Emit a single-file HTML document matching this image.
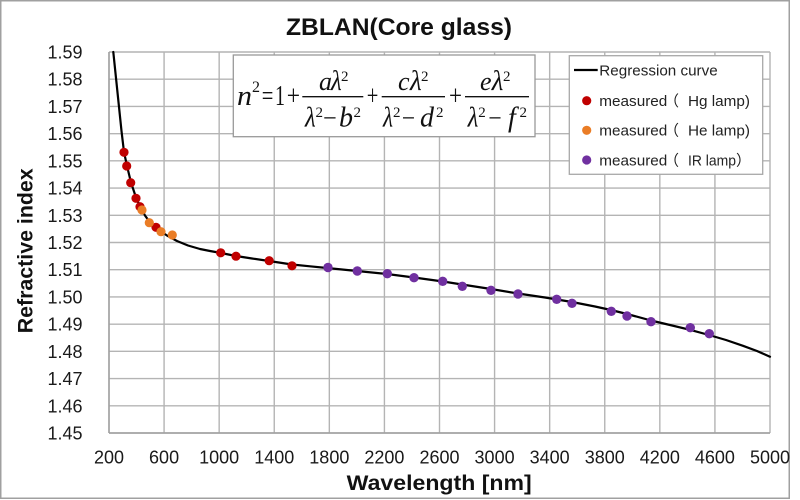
<!DOCTYPE html>
<html><head><meta charset="utf-8"><style>
html,body{margin:0;padding:0;background:#fff;}
svg{display:block;}
</style></head><body>
<svg width="800" height="500" viewBox="0 0 800 500" xmlns="http://www.w3.org/2000/svg">
<rect x="0" y="0" width="800" height="500" fill="#fff"/>
<rect x="0.75" y="0.75" width="788.5" height="497.5" fill="none" stroke="#a0a0a0" stroke-width="1.5"/>

<!-- title -->
<text x="286" y="35" font-family="Liberation Sans, sans-serif" font-weight="bold" font-size="24" fill="#111" textLength="226" lengthAdjust="spacingAndGlyphs">ZBLAN(Core glass)</text>

<!-- grid -->
<g stroke="#b4b4b4" stroke-width="1.4" fill="none">
<line x1="109" y1="52" x2="770" y2="52"/>
<line x1="109" y1="79.21" x2="770" y2="79.21"/>
<line x1="109" y1="106.43" x2="770" y2="106.43"/>
<line x1="109" y1="133.64" x2="770" y2="133.64"/>
<line x1="109" y1="160.86" x2="770" y2="160.86"/>
<line x1="109" y1="188.07" x2="770" y2="188.07"/>
<line x1="109" y1="215.29" x2="770" y2="215.29"/>
<line x1="109" y1="242.5" x2="770" y2="242.5"/>
<line x1="109" y1="269.71" x2="770" y2="269.71"/>
<line x1="109" y1="296.93" x2="770" y2="296.93"/>
<line x1="109" y1="324.14" x2="770" y2="324.14"/>
<line x1="109" y1="351.36" x2="770" y2="351.36"/>
<line x1="109" y1="378.57" x2="770" y2="378.57"/>
<line x1="109" y1="405.79" x2="770" y2="405.79"/>
<line x1="109" y1="433" x2="770" y2="433"/>
<line x1="109" y1="52" x2="109" y2="433"/>
<line x1="164.08" y1="52" x2="164.08" y2="433"/>
<line x1="219.17" y1="52" x2="219.17" y2="433"/>
<line x1="274.25" y1="52" x2="274.25" y2="433"/>
<line x1="329.33" y1="52" x2="329.33" y2="433"/>
<line x1="384.42" y1="52" x2="384.42" y2="433"/>
<line x1="439.5" y1="52" x2="439.5" y2="433"/>
<line x1="494.58" y1="52" x2="494.58" y2="433"/>
<line x1="549.67" y1="52" x2="549.67" y2="433"/>
<line x1="604.75" y1="52" x2="604.75" y2="433"/>
<line x1="659.83" y1="52" x2="659.83" y2="433"/>
<line x1="714.92" y1="52" x2="714.92" y2="433"/>
<line x1="770" y1="52" x2="770" y2="433"/>
</g>
<line x1="109" y1="433" x2="770" y2="433" stroke="#a0a0a0" stroke-width="1.5"/>
<line x1="109" y1="52" x2="109" y2="433" stroke="#a0a0a0" stroke-width="1.5"/>

<!-- y tick labels -->
<g font-family="Liberation Sans, sans-serif" font-size="18" fill="#1a1a1a" text-anchor="end">
<text x="82.5" y="58.5">1.59</text>
<text x="82.5" y="85.7">1.58</text>
<text x="82.5" y="112.9">1.57</text>
<text x="82.5" y="140.1">1.56</text>
<text x="82.5" y="167.4">1.55</text>
<text x="82.5" y="194.6">1.54</text>
<text x="82.5" y="221.8">1.53</text>
<text x="82.5" y="249">1.52</text>
<text x="82.5" y="276.2">1.51</text>
<text x="82.5" y="303.4">1.50</text>
<text x="82.5" y="330.6">1.49</text>
<text x="82.5" y="357.9">1.48</text>
<text x="82.5" y="385.1">1.47</text>
<text x="82.5" y="412.3">1.46</text>
<text x="82.5" y="439.5">1.45</text>
</g>

<!-- x tick labels -->
<g font-family="Liberation Sans, sans-serif" font-size="18" fill="#1a1a1a" text-anchor="middle">
<text x="109" y="463.5">200</text>
<text x="164.08" y="463.5">600</text>
<text x="219.17" y="463.5">1000</text>
<text x="274.25" y="463.5">1400</text>
<text x="329.33" y="463.5">1800</text>
<text x="384.42" y="463.5">2200</text>
<text x="439.5" y="463.5">2600</text>
<text x="494.58" y="463.5">3000</text>
<text x="549.67" y="463.5">3400</text>
<text x="604.75" y="463.5">3800</text>
<text x="659.83" y="463.5">4200</text>
<text x="714.92" y="463.5">4600</text>
<text x="770" y="463.5">5000</text>
</g>

<!-- axis titles -->
<text x="346.7" y="490" font-family="Liberation Sans, sans-serif" font-weight="bold" font-size="21" fill="#111" textLength="185" lengthAdjust="spacingAndGlyphs">Wavelength [nm]</text>
<text transform="translate(32.3,333.3) rotate(-90)" x="0" y="0" font-family="Liberation Sans, sans-serif" font-weight="bold" font-size="21" fill="#111" textLength="165" lengthAdjust="spacingAndGlyphs">Refractive index</text>

<!-- curve -->
<polyline fill="none" stroke="#000" stroke-width="2.2" stroke-linejoin="round" stroke-linecap="round" points="113.3,52 116,78 118.8,105 121.5,131 124,152 127,166 131,182.5 136,197.5 140,206.5 145,215.5 150,222.5 156,227.5 161,231.5 167,235.5 177,241 188,245.5 200,249 210,251 221,253 236,256 252,258.5 269,261 292,264.5 310,266.3 327,268 357,271 387,274 414,277.5 443,281.5 462,284.5 491,289 518,293.5 545,297.5 572,302 595,306.5 611,310 627,314 651,320.5 670,325 690,329.8 709,335 726,340 743,345.8 757,351 770,356.7"/>

<!-- red points -->
<g fill="#c00000">
<circle cx="124" cy="152.3" r="4.6"/>
<circle cx="126.7" cy="166" r="4.6"/>
<circle cx="130.7" cy="182.7" r="4.6"/>
<circle cx="136" cy="198.3" r="4.6"/>
<circle cx="140" cy="206.7" r="4.6"/>
<circle cx="156" cy="227.3" r="4.6"/>
<circle cx="220.7" cy="252.8" r="4.6"/>
<circle cx="236" cy="256.2" r="4.6"/>
<circle cx="269.2" cy="260.7" r="4.6"/>
<circle cx="292" cy="265.8" r="4.6"/>
</g>
<!-- orange points -->
<g fill="#ea7d26">
<circle cx="142" cy="210" r="4.6"/>
<circle cx="149.3" cy="222.7" r="4.6"/>
<circle cx="161" cy="231.7" r="4.6"/>
<circle cx="172.3" cy="235" r="4.6"/>
</g>
<!-- purple points -->
<g fill="#7030a0">
<circle cx="328" cy="267.5" r="4.7"/>
<circle cx="357.3" cy="271" r="4.7"/>
<circle cx="387.3" cy="273.7" r="4.7"/>
<circle cx="414" cy="277.7" r="4.7"/>
<circle cx="442.7" cy="281.3" r="4.7"/>
<circle cx="462.3" cy="286.3" r="4.7"/>
<circle cx="491" cy="290.3" r="4.7"/>
<circle cx="518" cy="294" r="4.7"/>
<circle cx="556.7" cy="299.3" r="4.7"/>
<circle cx="572" cy="303.3" r="4.7"/>
<circle cx="611.3" cy="311.3" r="4.7"/>
<circle cx="627" cy="316" r="4.7"/>
<circle cx="651" cy="321.7" r="4.7"/>
<circle cx="690.3" cy="327.7" r="4.7"/>
<circle cx="709.3" cy="333.7" r="4.7"/>
</g>

<!-- formula box -->
<rect x="233.3" y="55" width="301.7" height="81.7" fill="#fff" stroke="#999" stroke-width="1.3"/>
<g font-family="Liberation Serif, 'DejaVu Serif', serif" fill="#111">
<text x="237" y="105" font-size="29" font-style="italic" textLength="15" lengthAdjust="spacingAndGlyphs">n</text>
<text x="252" y="92" font-size="16">2</text>
<text x="261.7" y="105" font-size="29" textLength="11.6" lengthAdjust="spacingAndGlyphs">=</text>
<text x="275" y="105" font-size="29" textLength="10" lengthAdjust="spacingAndGlyphs">1</text>
<text x="286.7" y="105" font-size="29" textLength="13.3" lengthAdjust="spacingAndGlyphs">+</text>
<text x="366.7" y="105" font-size="29" textLength="11.6" lengthAdjust="spacingAndGlyphs">+</text>
<text x="449" y="105" font-size="29" textLength="13" lengthAdjust="spacingAndGlyphs">+</text>

<!-- numerators -->
<text x="319" y="90" font-size="26" font-style="italic">a</text>
<text x="331" y="90" font-size="28" font-style="italic" textLength="10.7" lengthAdjust="spacingAndGlyphs">λ</text>
<text x="341" y="81" font-size="15">2</text>

<text x="398" y="90" font-size="26" font-style="italic">c</text>
<text x="410" y="90" font-size="28" font-style="italic" textLength="11.7" lengthAdjust="spacingAndGlyphs">λ</text>
<text x="421" y="81" font-size="15">2</text>

<text x="480" y="90" font-size="26" font-style="italic">e</text>
<text x="491.7" y="90" font-size="28" font-style="italic" textLength="11.6" lengthAdjust="spacingAndGlyphs">λ</text>
<text x="503" y="81" font-size="15">2</text>

<!-- denominators -->
<text x="305" y="126.7" font-size="28" font-style="italic" textLength="10.7" lengthAdjust="spacingAndGlyphs">λ</text>
<text x="315.5" y="117" font-size="15">2</text>
<text x="323" y="126.7" font-size="26" textLength="13.7" lengthAdjust="spacingAndGlyphs">−</text>
<text x="339" y="126.7" font-size="28" font-style="italic">b</text>
<text x="353.5" y="117" font-size="15">2</text>

<text x="383" y="126.7" font-size="28" font-style="italic" textLength="10" lengthAdjust="spacingAndGlyphs">λ</text>
<text x="393" y="117" font-size="15">2</text>
<text x="401.7" y="126.7" font-size="26" textLength="13.3" lengthAdjust="spacingAndGlyphs">−</text>
<text x="420" y="126.7" font-size="28" font-style="italic">d</text>
<text x="436" y="117" font-size="15">2</text>

<text x="467.7" y="126.7" font-size="28" font-style="italic" textLength="10.6" lengthAdjust="spacingAndGlyphs">λ</text>
<text x="478.3" y="117" font-size="15">2</text>
<text x="488.3" y="126.7" font-size="26" textLength="13.4" lengthAdjust="spacingAndGlyphs">−</text>
<text x="508" y="126.7" font-size="28" font-style="italic">f</text>
<text x="519.5" y="117" font-size="15">2</text>
</g>
<g stroke="#111" stroke-width="1.3">
<line x1="302.3" y1="96.7" x2="363.3" y2="96.7"/>
<line x1="381.7" y1="96.7" x2="445" y2="96.7"/>
<line x1="465" y1="96.7" x2="529" y2="96.7"/>
</g>

<!-- legend -->
<rect x="569.3" y="55.7" width="193.4" height="118.6" fill="#fff" stroke="#a8a8a8" stroke-width="1.3"/>
<line x1="574" y1="70" x2="597.7" y2="70" stroke="#000" stroke-width="2.2"/>
<circle cx="586.7" cy="100.7" r="4.6" fill="#c00000"/>
<circle cx="586.7" cy="130.3" r="4.6" fill="#ea7d26"/>
<circle cx="586.7" cy="160" r="4.6" fill="#7030a0"/>
<g font-family="Liberation Sans, 'Noto Sans CJK JP', sans-serif" font-size="15" fill="#222">
<text x="599.3" y="75.5" textLength="118.4" lengthAdjust="spacingAndGlyphs">Regression curve</text>
<text x="599.3" y="106" textLength="68" lengthAdjust="spacingAndGlyphs">measured</text>
<text x="664" y="106" font-family="'Noto Sans CJK JP', sans-serif">（</text>
<text x="688" y="106" textLength="62" lengthAdjust="spacingAndGlyphs">Hg lamp)</text>
<text x="599.3" y="135.5" textLength="68" lengthAdjust="spacingAndGlyphs">measured</text>
<text x="664" y="135.5" font-family="'Noto Sans CJK JP', sans-serif">（</text>
<text x="688" y="135.5" textLength="62" lengthAdjust="spacingAndGlyphs">He lamp)</text>
<text x="599.3" y="165.5" textLength="68" lengthAdjust="spacingAndGlyphs">measured</text>
<text x="664" y="165.5" font-family="'Noto Sans CJK JP', sans-serif">（</text>
<text x="688" y="165.5" textLength="48" lengthAdjust="spacingAndGlyphs">IR lamp</text>
<text x="736" y="165.5" font-family="'Noto Sans CJK JP', sans-serif">）</text>
</g>
</svg>
</body></html>
